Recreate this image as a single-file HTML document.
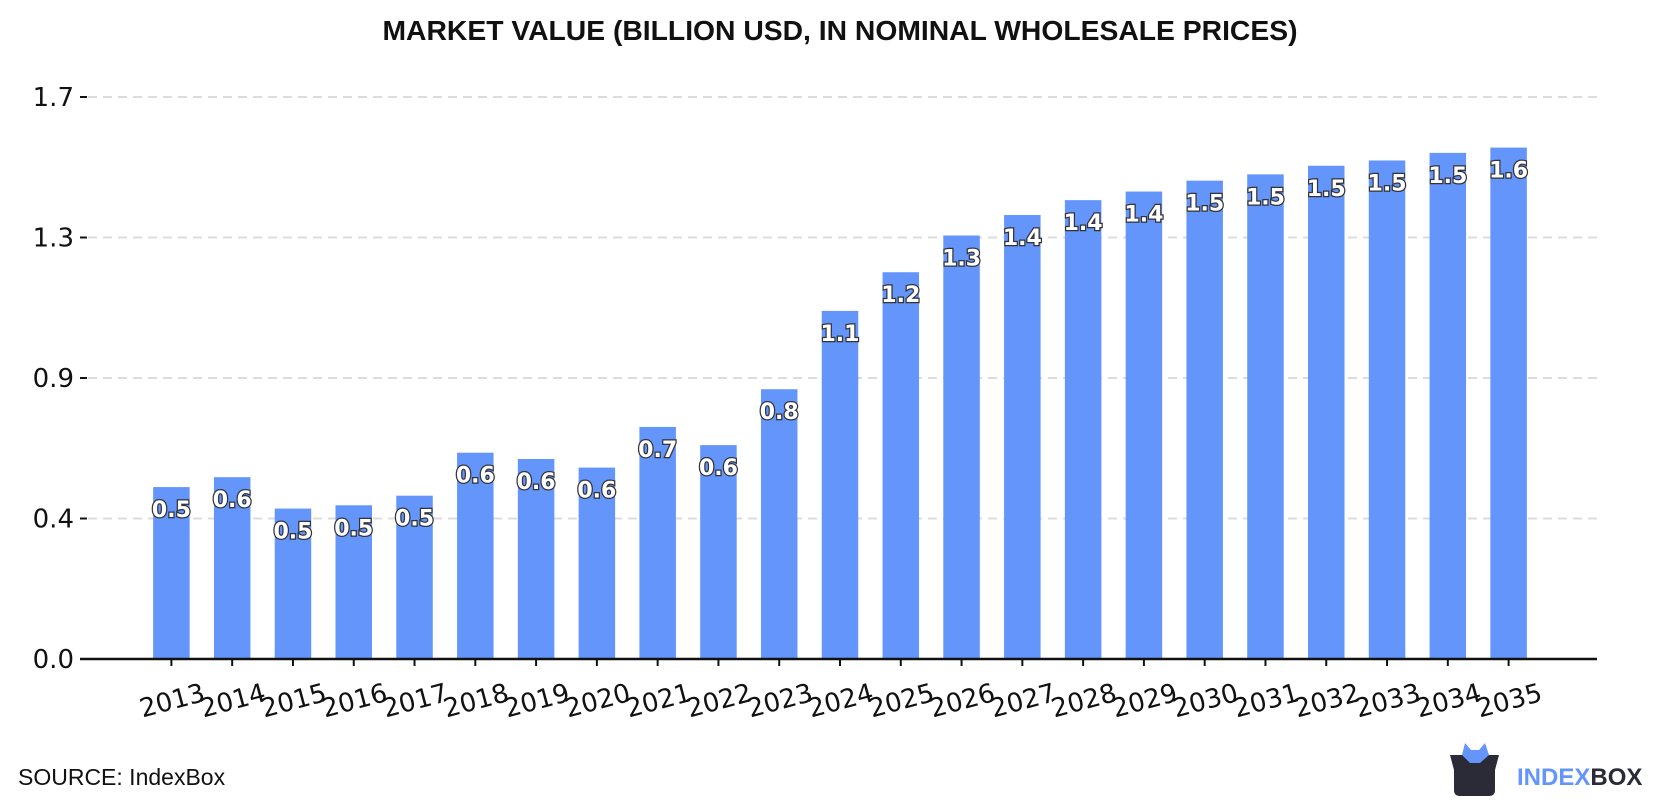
<!DOCTYPE html>
<html><head><meta charset="utf-8"><style>
html,body{margin:0;padding:0;background:#fff;}
body{width:1680px;height:800px;overflow:hidden;font-family:"Liberation Sans",sans-serif;}
</style></head><body>
<svg id="chart" width="1680" height="800" xmlns="http://www.w3.org/2000/svg">
<text x="840" y="40" text-anchor="middle" font-family="Liberation Sans, sans-serif" font-weight="bold" font-size="28" fill="#111" textLength="915" lengthAdjust="spacingAndGlyphs">MARKET VALUE (BILLION USD, IN NOMINAL WHOLESALE PRICES)</text>
<g id="grid"></g><g id="bars"></g><g id="axes"></g>
<text x="18" y="785" font-family="Liberation Sans, sans-serif" font-size="23" fill="#111">SOURCE: IndexBox</text>
<g>
<path d="M1450 755 L1499 755 L1495 770 L1495 790 Q1495 796 1489 796 L1460 796 Q1454 796 1454 790 L1454 770 Z" fill="#2a2b36"/>
<path d="M1462 755 L1465 743 L1471 750 L1479 750 L1485 743 L1489 755 L1480 763 L1470 763 Z" fill="#6495fb"/>
<text x="1517" y="785" font-family="Liberation Sans, sans-serif" font-weight="bold" font-size="24" fill="#6495fb">INDEX<tspan fill="#2a2b36">BOX</tspan></text>
</g>
</svg>
<script>
const categories=["2013","2014","2015","2016","2017","2018","2019","2020","2021","2022","2023","2024","2025","2026","2027","2028","2029","2030","2031","2032","2033","2034","2035"];
const values=[0.52,0.55,0.455,0.465,0.494,0.624,0.605,0.579,0.702,0.647,0.816,1.053,1.170,1.281,1.343,1.388,1.414,1.447,1.466,1.492,1.508,1.531,1.547];
const valueLabels=["0.5","0.6","0.5","0.5","0.5","0.6","0.6","0.6","0.7","0.6","0.8","1.1","1.2","1.3","1.4","1.4","1.4","1.5","1.5","1.5","1.5","1.5","1.6"];
const tickValues=[0,0.425,0.85,1.275,1.7];
const tickLabels=["0.0","0.4","0.9","1.3","1.7"];
const NS="http://www.w3.org/2000/svg";
const y0=659,yTop=97,yMax=1.7;
const x0=171.4,step=(1508.6-171.4)/22,bw=36.5;
function y(v){return y0-v*(y0-yTop)/yMax;}
function x(i){return x0+i*step;}
function mk(t,a,p){const e=document.createElementNS(NS,t);for(const k in a)e.setAttribute(k,a[k]);p.appendChild(e);return e;}
const grid=document.getElementById('grid'),bars=document.getElementById('bars'),axes=document.getElementById('axes');
tickValues.forEach((v,i)=>{
  if(i>0){const g=mk('line',{x1:88,x2:1597,y1:y(v),y2:y(v),stroke:'#dcdcdc','stroke-width':2,'stroke-dasharray':'9,6'},grid);
  
  }
  const tk=mk('line',{x1:80,x2:87,y1:y(v),y2:y(v),stroke:'#111','stroke-width':2},axes);
  
  
  const t=mk('text',{x:74,y:y(v)+9,'text-anchor':'end','font-size':26,'font-family':'DejaVu Sans, sans-serif',fill:'#111'},axes);
  t.textContent=tickLabels[i];
  
  
});
categories.forEach((c,i)=>{
  const r=mk('rect',{x:x(i)-bw/2,y:y(values[i]),width:bw,height:y0-y(values[i]),fill:'#6495fb'},bars);
  
  
  const l=mk('text',{x:x(i),y:y(values[i])+30,'text-anchor':'middle','font-size':22,'font-weight':'bold','font-family':'DejaVu Sans, sans-serif',fill:'#fff',stroke:'#333','stroke-width':2.5,'paint-order':'stroke'},bars);
  l.textContent=valueLabels[i];
  
  
  const tk=mk('line',{x1:x(i),x2:x(i),y1:y0,y2:y0+7,stroke:'#111','stroke-width':2},axes);
  
  
  const cx=x(i)+3,cy=y0+50;
  const t=mk('text',{x:cx,y:cy,'text-anchor':'middle','font-size':26,'font-family':'DejaVu Sans, sans-serif',fill:'#111',transform:`rotate(-15 ${cx} ${cy})`},axes);
  t.textContent=c;
  
  
});
const ax=mk('line',{x1:80,x2:1597,y1:y0,y2:y0,stroke:'#111','stroke-width':2.5},axes);


</script>
</body></html>
